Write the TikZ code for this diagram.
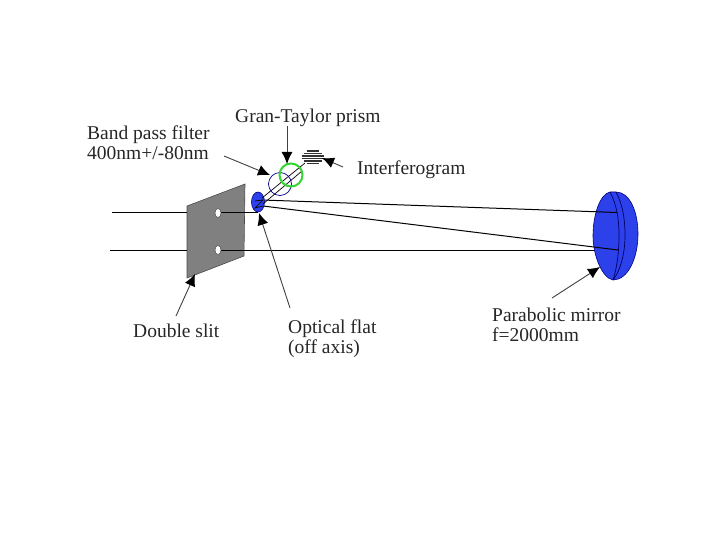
\documentclass[tikz,border=0pt]{standalone}
\usepackage{fontspec}
\setmainfont{Liberation Serif}
\usetikzlibrary{arrows.meta,shapes.geometric}
\definecolor{mirrorblue}{RGB}{45,65,235}
\tikzset{
  lbl/.style={inner sep=0pt,font=\fontsize{19.5}{20}\selectfont,align=left,text=black!85},
  beam/.style={draw=black,line width=1pt},
  pointer/.style={draw=black!75,line width=0.9pt,-{Latex[length=12pt,width=11pt,color=black]}},
  thinblue/.style={draw=blue!55!black,line width=0.7pt},
  holeshape/.style={draw=black!70,fill=white,ellipse,inner sep=0pt,minimum width=6pt,minimum height=9pt,line width=0.5pt}
}
\begin{document}
\begin{tikzpicture}[x=1pt,y=-1pt]
\useasboundingbox (0,0) rectangle (720,540);
% labels
\node[lbl,anchor=north west] (gran) at (235,109) {Gran-Taylor prism};
\node[lbl,anchor=north west] (band) at (87,126) {Band pass filter\\400nm+/-80nm};
\node[lbl,anchor=north west] (inter) at (357,161) {Interferogram};
\node[lbl,anchor=north west] (slit) at (133,324) {Double slit};
\node[lbl,anchor=north west] (flatl) at (288,320) {Optical flat\\(off axis)};
\node[lbl,anchor=north west] (mirl) at (492,308) {Parabolic mirror\\f=2000mm};
% coordinates
\coordinate (in1) at (112,213);
\coordinate (in2) at (110,250);
\coordinate (h1) at (218,213);
\coordinate (h2) at (218,250);
\coordinate (fl1) at (262,200);
\coordinate (fl2) at (263,206);
\coordinate (m1) at (617,212.5);
\coordinate (m2) at (618,250);
\coordinate (m3) at (618,250);
% slit plate
\fill[black!50,draw=black!70,line width=0.6pt] (187,206) coordinate (s1) -- (245,184) coordinate (s2) -- (244,256) coordinate (s3) -- (187,278) coordinate (s4) -- cycle;
\draw[beam] (in1) -- (187,213);
\draw[beam] (in2) -- (187,250);
\draw[beam] (h1) -- (258,213);
\draw[beam] (h2) -- (m3);
\node[holeshape] (hole1) at (h1) {};
\node[holeshape] (hole2) at (h2) {};
% mirror
\fill[mirrorblue,draw=blue!50!black,line width=0.6pt] (610,192) .. controls (600,194) and (593,215) .. (593,236) .. controls (593,255) and (602,278) .. (613,280) .. controls (628,280) and (638,258) .. (638,234) .. controls (638,212) and (630,192) .. (616,192) -- cycle;
\draw[blue!40!black,line width=0.7pt] (610,192) .. controls (617,205) and (619,220) .. (619,236) .. controls (619,252) and (617,268) .. (613,280);
\draw[blue!40!black,line width=0.7pt] (616,192) .. controls (623,205) and (625,220) .. (625,236) .. controls (625,252) and (621,270) .. (613,280);
% beams
\draw[beam] (fl1) -- (m1);
\draw[beam] (fl2) -- (m2);
% flat
\fill[mirrorblue,draw=blue!50!black,line width=0.6pt] (258,202) ellipse [x radius=6.5,y radius=10];
\draw[black,line width=0.7pt] (255,201) -- (263,200) -- (255,208) -- (263,206);
% prism axis
\draw[black,line width=0.7pt] (262,198) -- (305,163);
\draw[black,line width=0.7pt] (263,204) -- (302,171);
\draw[thinblue] (280,184) circle [radius=11.5];
\draw[green!80!black!80,line width=2pt] (291,175) circle [radius=11.5];
% interferogram
\foreach \yy/\ww in {151/6,153.5/9,156/11,158.5/11,161/9,163.5/6}{\draw[black!80,line width=1.1pt] (312.5-\ww,\yy) -- (312.5+\ww,\yy);}
% pointers
\draw[pointer] (287,126) -- (287,164);
\draw[pointer] (224,156) -- (270,175);
\draw[pointer] (343,167) -- (322,158);
\draw[pointer] (176,316) -- (195,274);
\draw[pointer] (290,308) -- (259,213);
\draw[pointer] (552,298) -- (600,267);
\end{tikzpicture}
\end{document}
